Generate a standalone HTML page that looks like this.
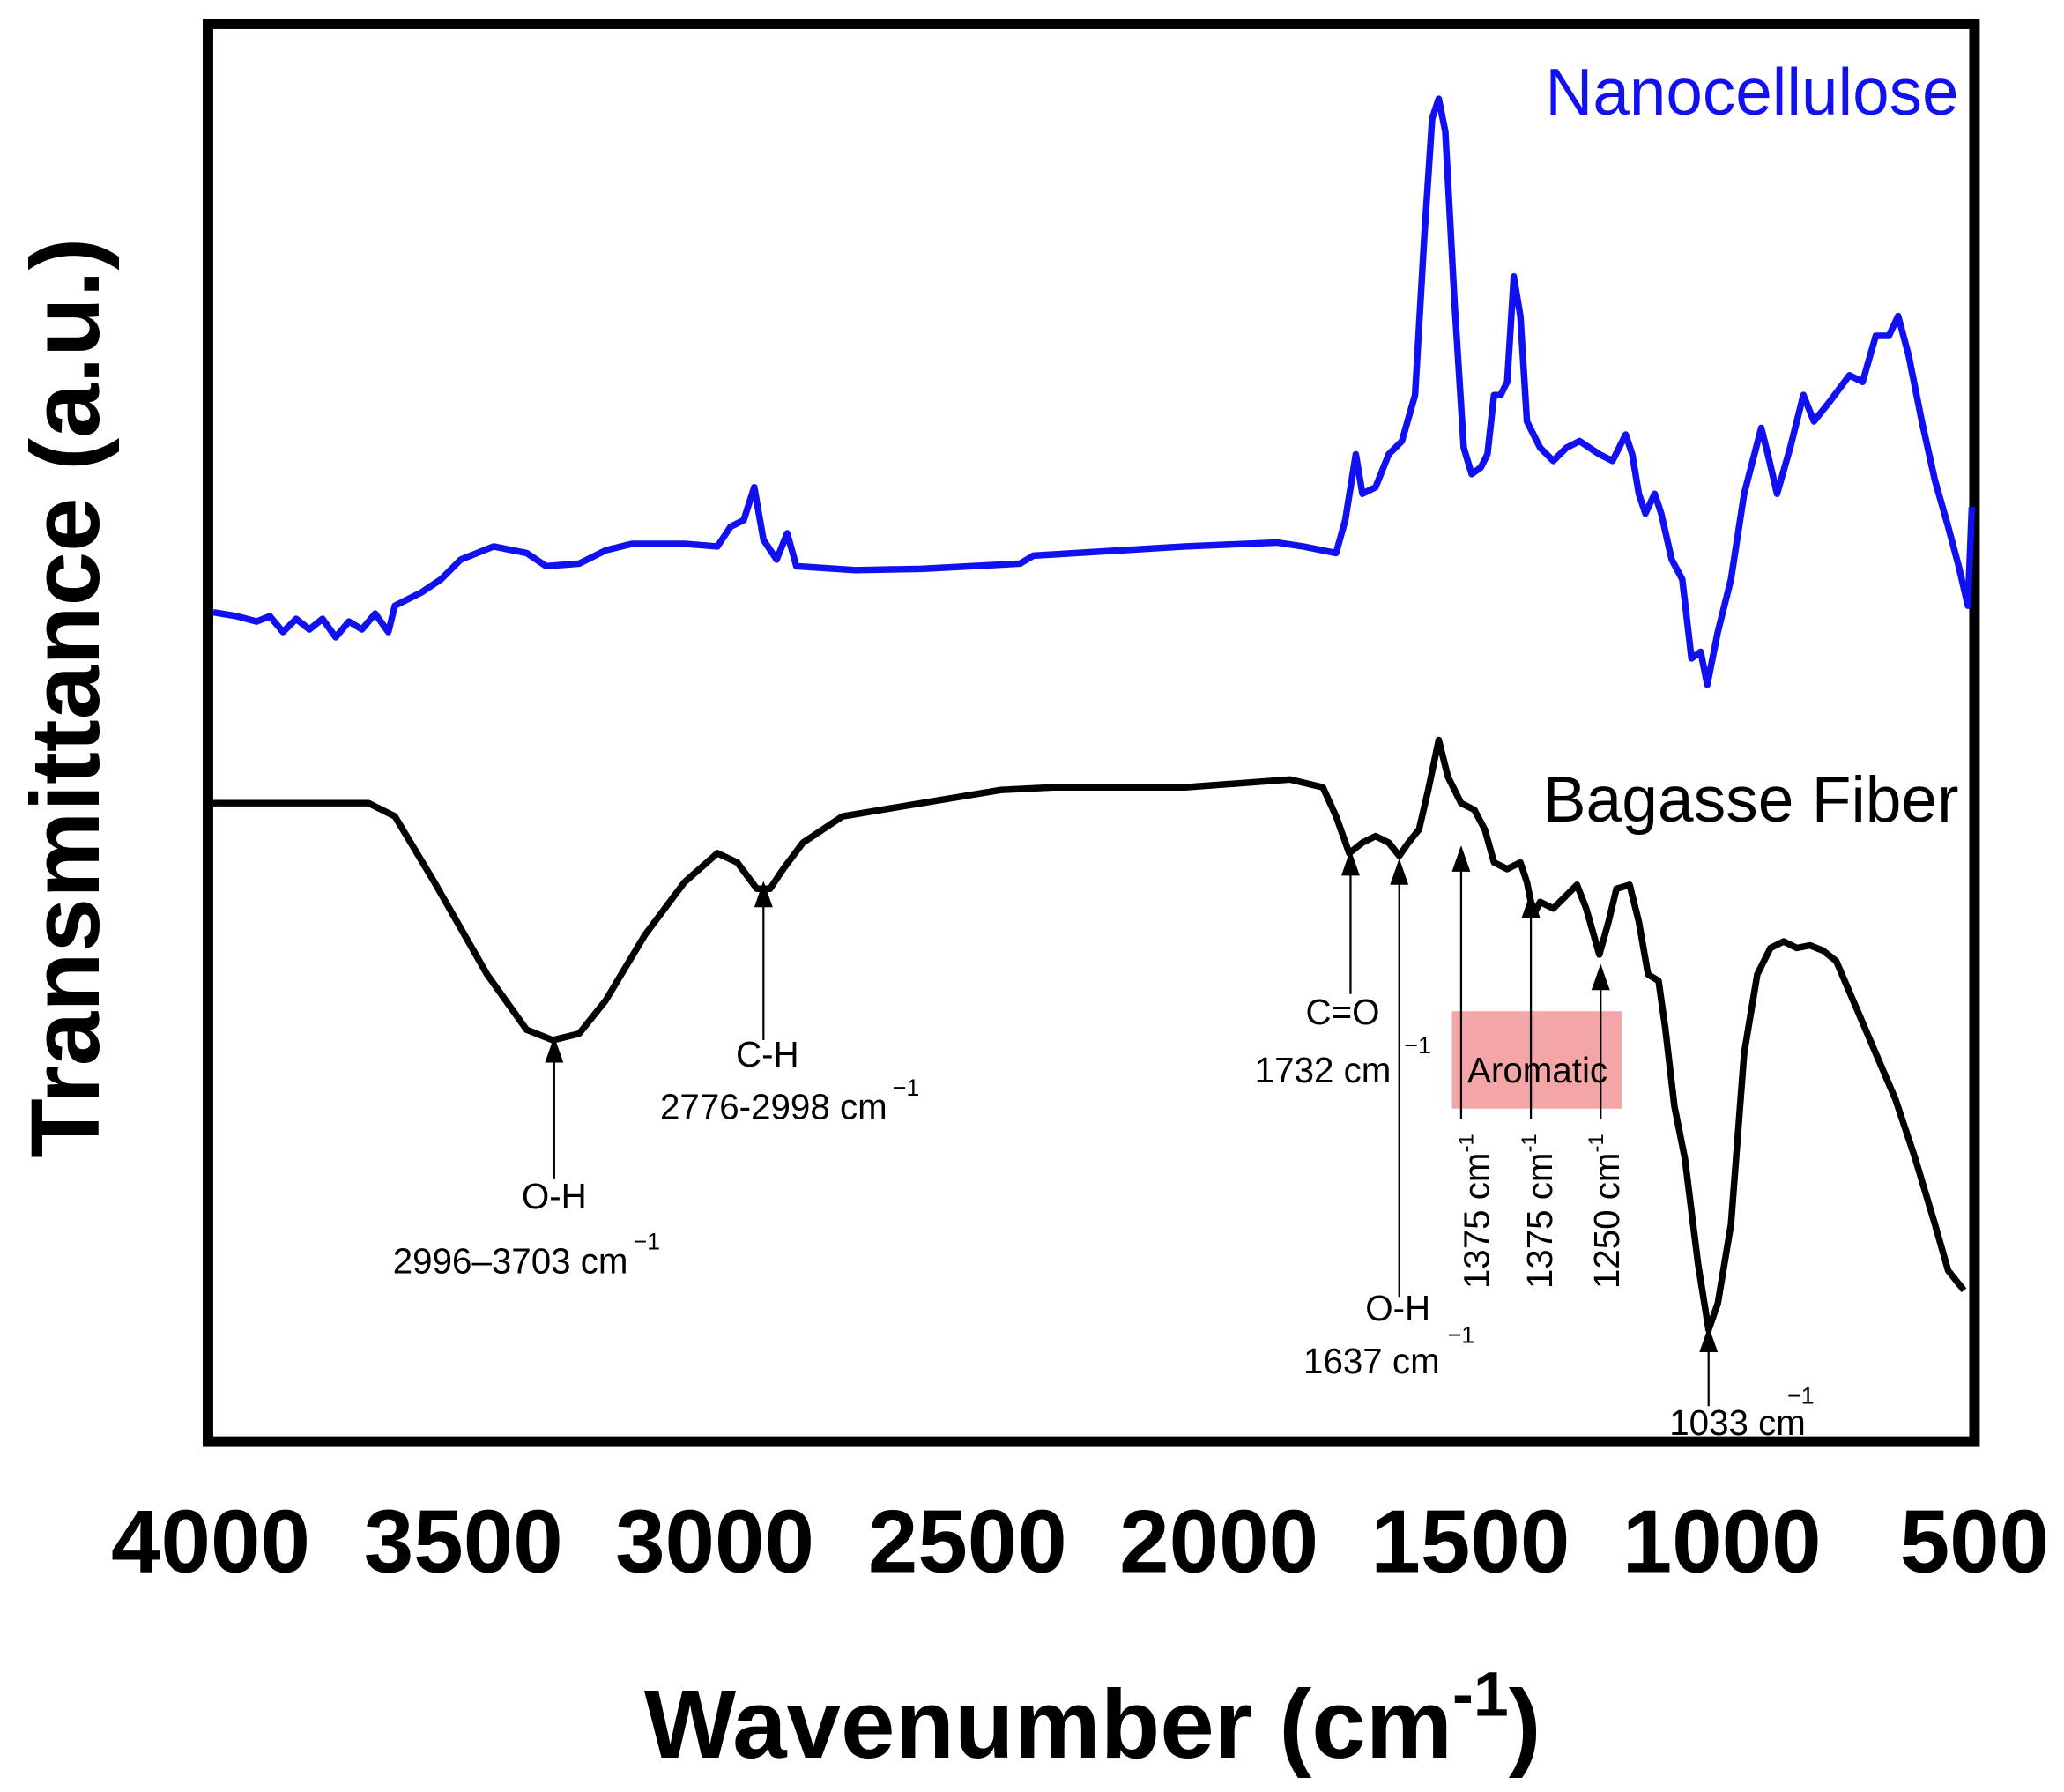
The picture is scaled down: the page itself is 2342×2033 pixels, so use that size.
<!DOCTYPE html>
<html><head><meta charset="utf-8"><style>html,body{margin:0;padding:0;background:#fff}svg{display:block}</style></head>
<body>
<svg width="2342" height="2033" viewBox="0 0 1568 1361" xmlns="http://www.w3.org/2000/svg" font-family="Liberation Sans, Arial, sans-serif">
<rect x="158" y="18" width="1342" height="1077" fill="none" stroke="#000" stroke-width="8"/>
<g font-weight="bold" font-size="68" text-anchor="middle">
<text x="160" y="1194">4000</text><text x="352" y="1194">3500</text><text x="543" y="1194">3000</text><text x="735" y="1194">2500</text><text x="926" y="1194">2000</text><text x="1117" y="1194">1500</text><text x="1308" y="1194">1000</text><text x="1500" y="1194">500</text>
</g>
<text x="830" y="1335" font-weight="bold" font-size="74" text-anchor="middle">Wavenumber (cm<tspan font-size="48" dy="-32">-1</tspan><tspan dy="32">)</tspan></text>
<text transform="translate(75,530) rotate(-90)" font-weight="bold" font-size="74" text-anchor="middle">Transmittance (a.u.)</text>
<polyline fill="none" stroke="#1010f0" stroke-width="5" stroke-linejoin="round" points="162,465 180,468 195,472 205,468 215,480 225,470 235,478 245,470 255,484 265,472 275,478 285,466 295,480 300,460 320,450 335,440 350,425 375,415 400,420 415,430 440,428 460,418 480,413 520,413 545,415 555,400 565,395 573,370 580,410 590,425 598,405 605,430 650,433 700,432 775,428 785,422 900,415 970,412 990,415 1015,420 1022,395 1030,345 1035,375 1045,370 1055,345 1065,335 1075,300 1082,180 1088,90 1093,75 1098,100 1105,230 1112,340 1118,360 1125,355 1130,345 1135,300 1140,300 1145,290 1150,210 1155,240 1160,320 1170,340 1180,350 1190,340 1200,335 1215,345 1225,350 1235,330 1240,345 1245,375 1250,390 1257,375 1262,390 1270,425 1278,440 1285,500 1292,495 1297,520 1305,480 1315,440 1325,375 1338,325 1343,345 1350,375 1360,340 1370,300 1378,320 1390,305 1405,285 1415,290 1425,255 1435,255 1442,240 1450,270 1460,320 1470,365 1480,400 1488,430 1495,460 1498,385"/>
<polyline fill="none" stroke="#000" stroke-width="5" stroke-linejoin="round" points="162,610 280,610 300,620 330,670 370,740 400,782 420,790 440,785 460,760 490,710 520,670 545,648 560,655 575,675 585,675 595,660 610,640 640,620 700,610 760,600 800,598 900,598 980,592 1005,598 1015,620 1025,648 1035,640 1045,635 1055,640 1063,650 1070,640 1078,630 1085,600 1093,562 1100,590 1110,610 1120,615 1128,630 1135,655 1145,660 1155,655 1160,670 1165,695 1170,685 1180,690 1190,680 1198,672 1205,690 1215,725 1222,700 1228,675 1238,672 1245,700 1252,740 1260,745 1265,780 1272,840 1280,880 1290,960 1298,1010 1305,990 1315,930 1325,800 1335,740 1345,720 1355,715 1365,720 1375,718 1385,722 1395,730 1410,765 1425,800 1440,835 1455,880 1470,930 1480,965 1492,980"/>
<rect x="1103" y="768" width="129" height="74" fill="#f4a5a5"/>
<text x="1168" y="822" font-size="27" text-anchor="middle">Aromatic</text>
<g stroke="#000" stroke-width="1.5">
<line x1="421" y1="795" x2="421" y2="895"/><line x1="580" y1="677" x2="580" y2="790"/><line x1="1026" y1="653" x2="1026" y2="755"/><line x1="1063" y1="660" x2="1063" y2="985"/><line x1="1110" y1="650" x2="1110" y2="850"/><line x1="1163" y1="685" x2="1163" y2="850"/><line x1="1216" y1="740" x2="1216" y2="850"/><line x1="1298" y1="1015" x2="1298" y2="1068"/>
</g>
<g fill="#000">
<path d="M421,787 l-7,20 h14z"/><path d="M580,669 l-7,20 h14z"/><path d="M1026,645 l-7,20 h14z"/><path d="M1063,652 l-7,20 h14z"/><path d="M1110,642 l-7,20 h14z"/><path d="M1163,677 l-7,20 h14z"/><path d="M1216,732 l-7,20 h14z"/><path d="M1298,1007 l-7,20 h14z"/>
</g>
<g font-size="27" text-anchor="middle">
<text x="421" y="918">O-H</text>
<text x="400" y="967">2996–3703 cm<tspan font-size="18" dy="-18" dx="4">−1</tspan></text>
<text x="583" y="810">C-H</text>
<text x="600" y="850">2776-2998 cm<tspan font-size="18" dy="-18" dx="4">−1</tspan></text>
<text x="1020" y="778">C=O</text>
<text x="1005" y="822">1732 cm</text><text x="1077" y="800" font-size="18">−1</text>
<text x="1062" y="1003">O-H</text>
<text x="1042" y="1043">1637 cm</text><text x="1110" y="1020" font-size="18">−1</text>
<text x="1320" y="1090">1033 cm</text><text x="1368" y="1066" font-size="18">−1</text>
<text transform="translate(1131,920) rotate(-90)">1375 cm<tspan font-size="16" dy="-12">-1</tspan></text>
<text transform="translate(1179,920) rotate(-90)">1375 cm<tspan font-size="16" dy="-12">-1</tspan></text>
<text transform="translate(1230,920) rotate(-90)">1250 cm<tspan font-size="16" dy="-12">-1</tspan></text>
</g>
<text x="1488" y="87" font-size="50" fill="#1010f0" text-anchor="end">Nanocellulose</text>
<text x="1488" y="624" font-size="49" text-anchor="end">Bagasse Fiber</text>
</svg>
</body></html>
